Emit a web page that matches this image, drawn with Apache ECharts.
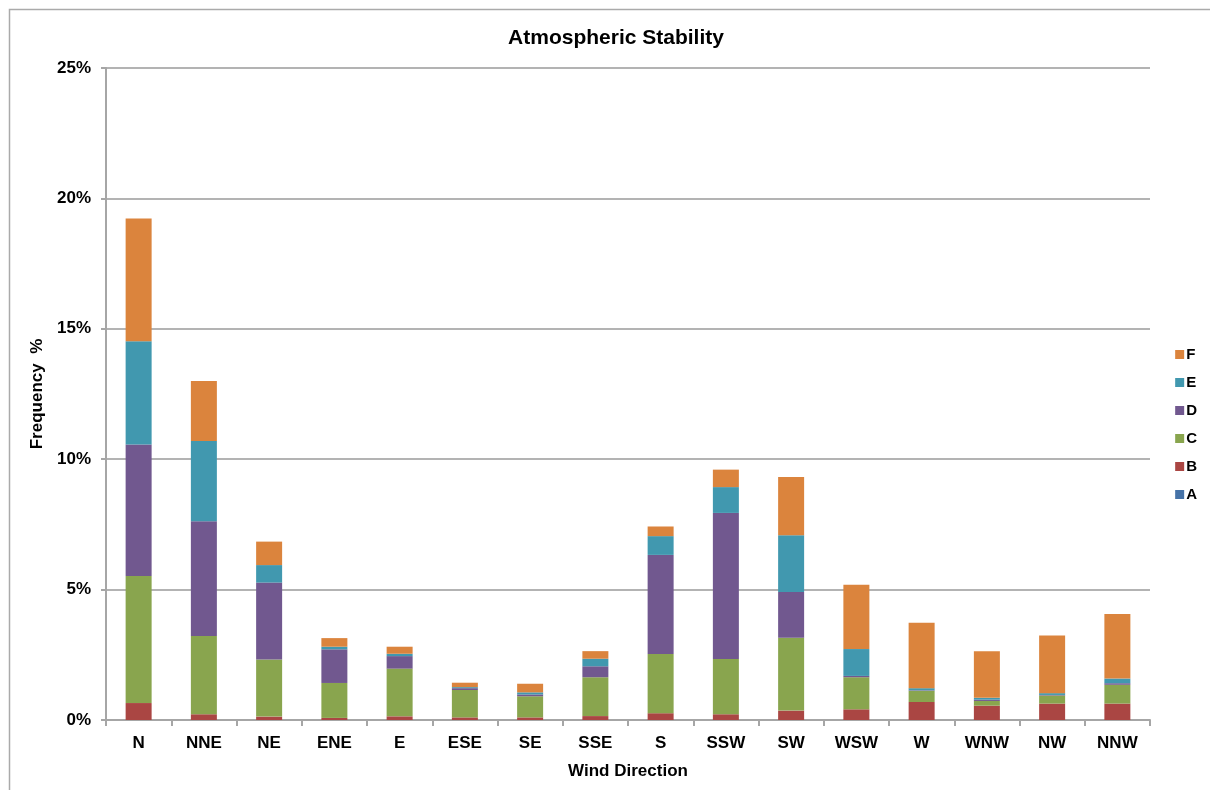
<!DOCTYPE html>
<html>
<head>
<meta charset="utf-8">
<script src="https://cdn.jsdelivr.net/npm/echarts@6/dist/echarts.min.js"></script>
<style>
html,body{margin:0;padding:0;background:#fff;}
#chart{width:1210px;height:790px;}
</style>
</head>
<body>
<div id="chart"></div>
<script>
const categories = ['N','NNE','NE','ENE','E','ESE','SE','SSE','S','SSW','SW','WSW','W','WNW','NW','NNW'];
const seriesA = [0,0,0,0,0,0,0,0,0,0,0,0,0,0,0,0];
const seriesB = [0.65,0.22,0.13,0.08,0.14,0.10,0.10,0.15,0.26,0.22,0.36,0.41,0.69,0.55,0.63,0.63];
const seriesC = [4.87,3.00,2.19,1.34,1.83,1.05,0.81,1.49,2.27,2.12,2.79,1.23,0.43,0.18,0.31,0.72];
const seriesD = [5.04,4.40,2.95,1.29,0.48,0.07,0.07,0.42,3.80,5.60,1.76,0.05,0.02,0.05,0.02,0.06];
const seriesE = [3.96,3.08,0.67,0.10,0.09,0.04,0.08,0.29,0.72,0.99,2.17,1.03,0.08,0.07,0.07,0.18];
const seriesF = [4.71,2.30,0.90,0.33,0.27,0.17,0.33,0.29,0.37,0.67,2.24,2.47,2.51,1.79,2.21,2.47];
const yTicks = [0,5,10,15,20,25];

const colors = {A:'#4572A7',B:'#AA4643',C:'#89A54E',D:'#71588F',E:'#4198AF',F:'#DB843D'};
const font = 'Liberation Sans, Arial, sans-serif';

const chart = echarts.init(document.getElementById('chart'));
const mk = (name, data) => ({
  name, type:'bar', stack:'s', data, barWidth:26,
  itemStyle:{color:colors[name]}
});
chart.setOption({
  animation:false,
  backgroundColor:'#fff',
  title:{text:'Atmospheric Stability', left:611, top:23, textAlign:'center',
    textStyle:{fontFamily:font, fontSize:21, fontWeight:'bold', color:'#000'}},
  graphic:[{type:'rect', shape:{x:9.5,y:9.5,width:1230,height:800}, style:{fill:'none', stroke:'#aaa', lineWidth:1.5}, silent:true}],
  legend:{orient:'vertical', right:8, top:342, itemWidth:9, itemHeight:9, itemGap:13,
    icon:'rect',
    data:['F','E','D','C','B','A'],
    textStyle:{fontFamily:font, fontSize:15, fontWeight:'bold', color:'#000', padding:[0,0,0,-3]}},
  grid:{left:106, right:60, top:68, bottom:70, containLabel:false},
  xAxis:{type:'category', data:categories,
    name:'Wind Direction', nameLocation:'middle', nameGap:43,
    nameTextStyle:{fontFamily:font, fontSize:17, fontWeight:'bold', color:'#000'},
    axisLine:{lineStyle:{color:'#a6a6a6', width:2}},
    axisTick:{show:true, length:6, lineStyle:{color:'#a6a6a6', width:2}},
    axisLabel:{fontFamily:font, fontSize:17, fontWeight:'bold', color:'#000', margin:15}},
  yAxis:{type:'value', min:0, max:25, interval:5,
    name:'Frequency  %', nameLocation:'middle', nameGap:53,
    nameTextStyle:{fontFamily:font, fontSize:17, fontWeight:'bold', color:'#000'},
    axisLine:{show:true, lineStyle:{color:'#a6a6a6', width:2}},
    axisTick:{show:true, length:5, lineStyle:{color:'#a6a6a6', width:2}},
    splitLine:{lineStyle:{color:'#b3b3b3', width:2}},
    axisLabel:{fontFamily:font, fontSize:17, fontWeight:'bold', color:'#000', margin:15,
      formatter:v => yTicks.includes(v) ? v + '%' : ''}},
  series:[mk('A',seriesA), mk('B',seriesB), mk('C',seriesC), mk('D',seriesD), mk('E',seriesE), mk('F',seriesF)]
});
</script>
</body>
</html>
